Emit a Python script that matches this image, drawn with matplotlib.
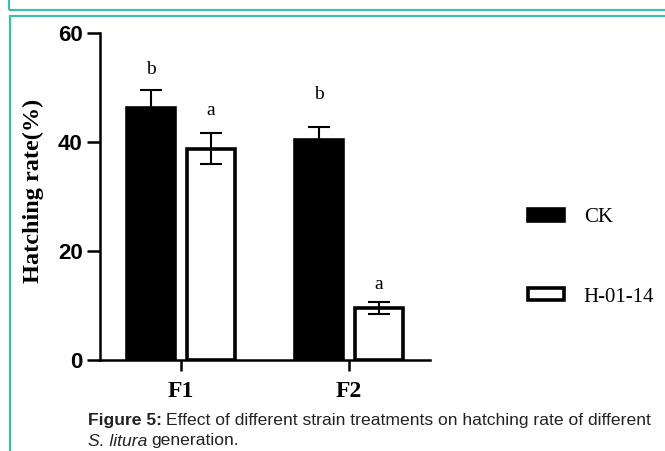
import matplotlib
matplotlib.use("Agg")
import matplotlib.pyplot as plt
from matplotlib.patches import Rectangle
import numpy as np

generations = ["F1", "F2"]
series_names = ["CK", "H-01-14"]
ck_values = [46.2, 40.4]
ck_errors = [3.3, 2.3]
h_values = [38.8, 9.5]
h_errors = [2.9, 1.1]
ck_letters = ["b", "b"]
h_letters = ["a", "a"]
letter_gap_ck = [3.8, 6.0]
letter_gap_h = [4.0, 3.3]
yticks = [0, 20, 40, 60]

W, H = 665, 451
fig = plt.figure(figsize=(W / 100, H / 100), dpi=100)
fig.patch.set_facecolor("white")

teal = "#3cbfa4"
# decorative frames
fig.add_artist(Rectangle((9 / W, 1 - 9.5 / H), 1.0, 0.2, transform=fig.transFigure,
                         fill=False, edgecolor=teal, linewidth=1.6, clip_on=False))
fig.add_artist(Rectangle((10 / W, -0.2), 1.0, 1 - 16 / H + 0.2, transform=fig.transFigure,
                         fill=False, edgecolor=teal, linewidth=1.6, clip_on=False))

ax = fig.add_axes([100 / W, 1 - 360 / H, 330 / W, 327 / H])
x = np.arange(len(generations))
bw = 0.286
off = 0.179
lw_edge = 2.6
ek = dict(elinewidth=1.5, capthick=1.5, ecolor="black")

b1 = ax.bar(x - off, ck_values, bw, color="black", edgecolor="black", linewidth=lw_edge,
            label=series_names[0], zorder=2)
ax.errorbar(x - off, ck_values, yerr=ck_errors, fmt="none", capsize=8, zorder=1, **ek)
b2 = ax.bar(x + off, h_values, bw, color="white", edgecolor="black", linewidth=lw_edge,
            label=series_names[1], zorder=2)
ax.errorbar(x + off, h_values, yerr=h_errors, fmt="none", capsize=8, zorder=3, **ek)

for i in range(len(generations)):
    ax.text(x[i] - off, ck_values[i] + ck_errors[i] + letter_gap_ck[i], ck_letters[i],
            ha="center", va="center", fontsize=14, family="Liberation Serif")
    ax.text(x[i] + off, h_values[i] + h_errors[i] + letter_gap_h[i], h_letters[i],
            ha="center", va="center", fontsize=14, family="Liberation Serif")

ax.set_xlim(-0.482, 1.482)
ax.set_ylim(0, 60)
ax.set_xticks(x)
ax.set_xticklabels(generations, fontsize=17, fontweight="bold", family="Liberation Serif")
ax.set_yticks(yticks)
ax.set_yticklabels([str(t) for t in yticks], fontsize=16, fontweight="bold", family="Liberation Sans")
ax.tick_params(axis="y", direction="out", length=9.5, width=1.8, pad=3)
ax.tick_params(axis="x", direction="out", length=8, width=1.8, pad=7)
for s in ["top", "right"]:
    ax.spines[s].set_visible(False)
for s in ["left", "bottom"]:
    ax.spines[s].set_linewidth(1.8)
ax.set_ylabel("Hatching rate(%)", fontsize=17.5, fontweight="bold", family="Liberation Serif")
ax.yaxis.set_label_coords((44 - 100) / 330, (360 - 191) / 327, transform=ax.transAxes)

leg = fig.legend(handles=[b1, b2], labels=series_names, loc="center left",
                 bbox_to_anchor=(528 / W, 1 - 257.5 / H), frameon=False,
                 borderpad=0, borderaxespad=0, handlelength=1.75, handleheight=0.5,
                 handletextpad=0.93, labelspacing=2.9,
                 prop={"family": "Liberation Serif", "size": 15})

cap_font = "Liberation Sans"
cap_size = 12.6
t1 = fig.text(88 / W, 1 - 420 / H, "Figure 5:", fontsize=cap_size, fontweight="bold",
              family=cap_font, va="center", ha="left", color="#222222")
fig.canvas.draw()
bb = t1.get_window_extent()
fig.text((bb.x1 + 4) / W, 1 - 420 / H, "Effect of different strain treatments on hatching rate of different",
         fontsize=cap_size, family=cap_font, va="center", ha="left", color="#222222")
t2 = fig.text(88 / W, 1 - 441 / H, "S. litura", fontsize=cap_size, style="italic",
              family=cap_font, va="center", ha="left", color="#222222")
fig.canvas.draw()
bb2 = t2.get_window_extent()
fig.text((bb2.x1 + 4) / W, 1 - 441 / H, "generation.", fontsize=cap_size,
         family=cap_font, va="center", ha="left", color="#222222")

fig.savefig("out.png", dpi=100)
